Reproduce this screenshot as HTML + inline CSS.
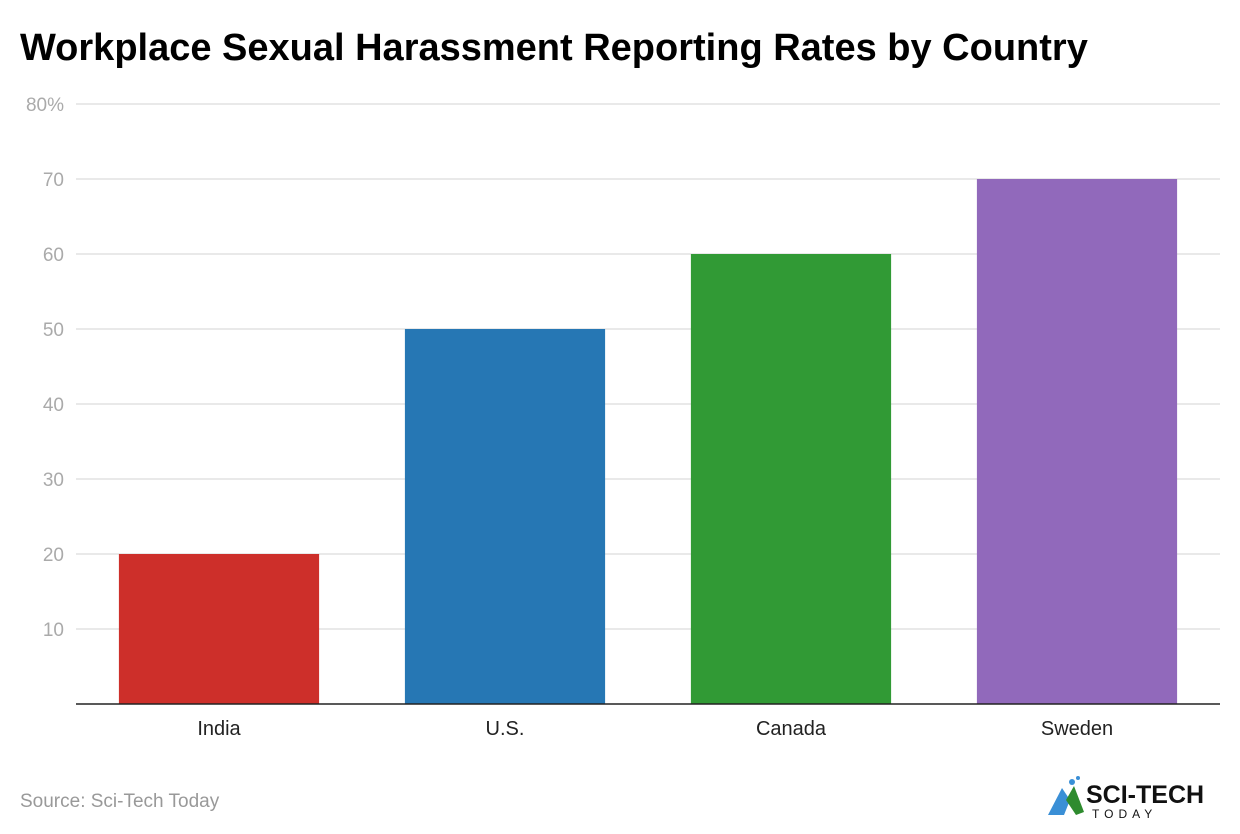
<!DOCTYPE html>
<html><head><meta charset="utf-8"><style>
body{margin:0;background:#fff;font-family:"Liberation Sans",Arial,sans-serif;}
svg{display:block}
</style></head><body>
<svg id="chart" width="1240" height="834">
<text x="20" y="60" font-size="38" font-weight="bold" fill="#000">Workplace Sexual Harassment Reporting Rates by Country</text>
<g id="grid"></g><g id="bars"></g><g id="labels"></g>
<line x1="76" x2="1220" y1="704" y2="704" stroke="#222" stroke-width="1.5"/>
<text x="20" y="807" font-size="19" fill="#999">Source: Sci-Tech Today</text>
<g>
<polygon points="1048,815 1062,788 1070,800 1064,815" fill="#3a8fd6"/>
<polygon points="1066,800 1074,786 1084,812 1076,815" fill="#2e8b2e"/>
<circle cx="1072" cy="782" r="3" fill="#3a8fd6"/><circle cx="1078" cy="778" r="2" fill="#3a8fd6"/>
<text x="1086" y="803" font-size="25" font-weight="bold" fill="#111">SCI-TECH</text>
<text x="1092" y="818" font-size="12" fill="#111" letter-spacing="5">TODAY</text>
</g>
</svg>
<script>
const categories=["India","U.S.","Canada","Sweden"];
const values=[20,50,60,70];
const colors=["#cd2f2a","#2677b4","#319a35","#9169bb"];
const ticks=[10,20,30,40,50,60,70,80];
const ns="http://www.w3.org/2000/svg";
const x0=76,x1=1220,yBase=704,yTop=104,maxV=80;
const y=v=>yBase-(v/maxV)*(yBase-yTop);
const band=(x1-x0)/categories.length;
const bx=i=>x0+band*i+band*0.15;
const bw=band*0.7;
function mk(t,a,p){const e=document.createElementNS(ns,t);for(const k in a)e.setAttribute(k,a[k]);p.appendChild(e);return e;}
const g=document.getElementById('grid');
ticks.forEach(t=>{
 const l=mk('line',{x1:x0,x2:x1,y1:y(t),y2:y(t),stroke:'#e2e2e2','stroke-width':1.5},g);
 
 
 const tx=mk('text',{x:64,y:y(t)+7,'text-anchor':'end','font-size':19,fill:'#aaa'},g);
 tx.textContent=t===80?'80%':String(t);
 
 
});
const b=document.getElementById('bars'),lb=document.getElementById('labels');
categories.forEach((c,i)=>{
 const r=mk('rect',{x:bx(i),y:y(values[i]),width:bw,height:yBase-y(values[i]),fill:colors[i]},b);
 
 
 const t=mk('text',{x:bx(i)+bw/2,y:735,'text-anchor':'middle','font-size':20,fill:'#222'},lb);
 t.textContent=c;
 
 
});
</script>
</body></html>
